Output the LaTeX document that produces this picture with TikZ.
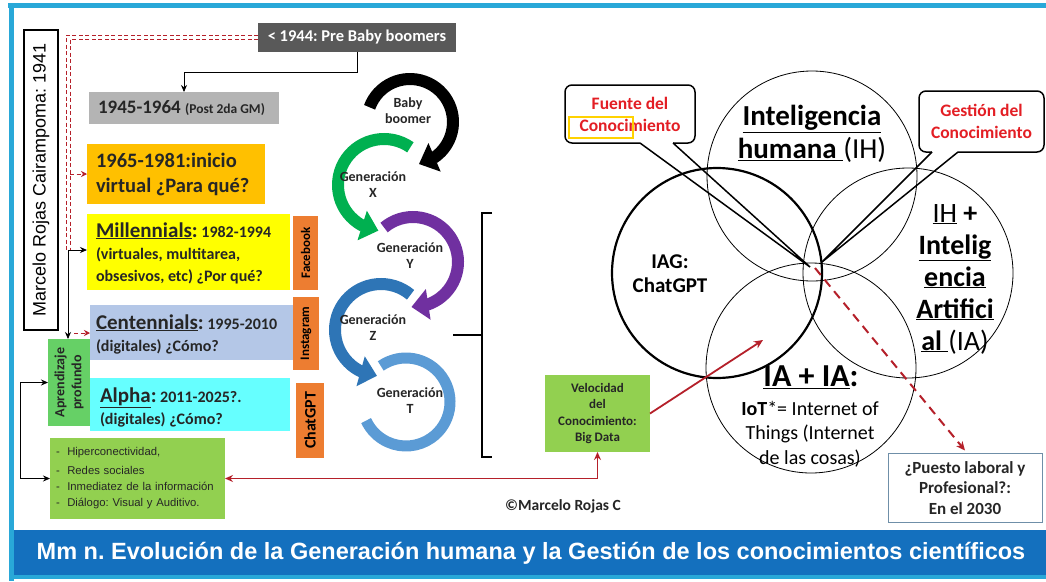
\documentclass[tikz,border=0pt]{standalone}
\usepackage{fontspec}
\setmainfont{Carlito}
\newfontfamily\arialf{Liberation Sans}
\usetikzlibrary{arrows.meta,bending,calc}
\definecolor{cyanb}{HTML}{29A8D8}
\definecolor{titleblue}{HTML}{1470BE}
\definecolor{pregray}{HTML}{595959}
\definecolor{lgray}{HTML}{B4B4B4}
\definecolor{amber}{HTML}{FFC000}
\definecolor{yel}{HTML}{FFFF00}
\definecolor{orng}{HTML}{ED7D31}
\definecolor{lblue}{HTML}{B4C7E7}
\definecolor{cyanbox}{HTML}{66FFFF}
\definecolor{aprgreen}{HTML}{66D066}
\definecolor{listgreen}{HTML}{92D050}
\definecolor{ggreen}{HTML}{00B050}
\definecolor{gpurple}{HTML}{7030A0}
\definecolor{gblue}{HTML}{2E75B6}
\definecolor{glblue}{HTML}{5B9BD5}
\definecolor{callred}{HTML}{E31E24}
\definecolor{dred}{HTML}{B5202A}
\definecolor{puestob}{HTML}{6F8FA8}
\definecolor{txtdark}{HTML}{262626}
\definecolor{hlyellow}{HTML}{FFD200}
\newcommand\fz[2]{\fontsize{#1}{#2}\selectfont}
\frenchspacing
\begin{document}
\begin{tikzpicture}[x=1pt,y=-1pt,
  every node/.style={inner sep=0pt, outer sep=0pt},
  boxtext/.style={anchor=west, align=left, text=txtdark},
  tagbox/.style={fill=orng, rotate=90, text=black},
  genarc/.style={line width=12pt, -{Triangle[width=30pt,length=17pt,flex]}},
  gentext/.style={font=\bfseries\fz{14}{16}, align=center, text=txtdark},
  venn/.style={circle, draw, minimum size=210pt},
  callout/.style={draw, line width=1.5pt, rounded corners=7pt, fill=white, align=center, text=callred, font=\bfseries\fz{17.5}{22}},
  thinarrow/.style={line width=0.8pt, -{Stealth[length=7pt,width=6pt]}},
  reddash/.style={dred, line width=0.8pt, dash pattern=on 4pt off 2.5pt},
  redarrow/.style={reddash, -{Stealth[length=6pt,width=6pt]}}
]
\useasboundingbox (0,0) rectangle (1046,581);
\fill[white] (0,0) rectangle (1046,581);
% frame and title bar
\fill[cyanb] (8,3) rectangle (1046,8);
\fill[cyanb] (9,3) rectangle (14,581);
\fill[titleblue] (14,530) rectangle (1046,575);
\fill[cyanb] (14,575) rectangle (1046,579);
\node[text=white, font=\arialf\bfseries\fz{23.5}{27}] (title) at (531,553) {Mm n. Evolución de la Generación humana y la Gestión de los conocimientos científicos};

% author box
\node[draw, line width=1.2pt, rotate=90, minimum width=300pt, minimum height=34pt, font=\arialf\fz{18}{21}] (marcelo) at (41,180) {Marcelo Rojas Cairampoma: 1941};

% generation boxes
\node[fill=pregray, text=white, font=\bfseries\fz{16.5}{19}, minimum width=198pt, minimum height=29pt] (pre) at (357,37) {< 1944: Pre Baby boomers};
\node[fill=lgray, minimum width=190pt, minimum height=32pt] (g45) at (184,108) {};
\node[boxtext, font=\bfseries\fz{19}{22}] (g45t) at (98,108) {1945-1964 {\fz{13.5}{15}(Post 2da GM)}};
\node[fill=amber, minimum width=178pt, minimum height=60pt] (g65) at (176,174) {};
\node[boxtext, font=\bfseries\fz{20.5}{25}] (g65t) at (96,174) {1965-1981:inicio\\virtual ¿Para qué?};
\node[fill=yel, minimum width=203pt, minimum height=76pt] (mil) at (188.5,252) {};
\node[boxtext, font=\bfseries\fz{16}{22}] (milt) at (96,253) {{\fz{21}{22}\underline{Millennials}:} 1982-1994\\(virtuales, multitarea,\\obsesivos, etc) ¿Por qué?};
\node[fill=lblue, minimum width=203pt, minimum height=55pt] (cen) at (191.5,332.5) {};
\node[boxtext, font=\bfseries\fz{16}{22}] (cent) at (96,334) {{\fz{21}{22}\underline{Centennials}:} 1995-2010\\(digitales) ¿Cómo?};
\node[fill=cyanbox, minimum width=200pt, minimum height=53pt] (alp) at (190,404.5) {};
\node[boxtext, font=\bfseries\fz{16}{22}] (alpt) at (100,407) {{\fz{21}{22}\underline{Alpha}:} 2011-2025?.\\(digitales) ¿Cómo?};

% social network tags
\node[tagbox, minimum width=74pt, minimum height=25pt, font=\bfseries\fz{13}{15}] (fb) at (305.5,253) {Facebook};
\node[tagbox, minimum width=73pt, minimum height=26pt, font=\bfseries\fz{13}{15}] (ig) at (306,333.5) {Instagram};
\node[tagbox, minimum width=75pt, minimum height=28pt, font=\bfseries\fz{16}{18}] (cg) at (310,420.5) {ChatGPT};

% deep learning + list
\node[fill=aprgreen, rotate=90, minimum width=87pt, minimum height=42pt, align=center, text=txtdark, font=\bfseries\fz{14}{17}] (apr) at (69,382.5) {Aprendizaje\\profundo};
\node[fill=listgreen, minimum height=81pt, text width=163pt, inner xsep=6pt, align=left, text=txtdark, font=\arialf\fz{11.3}{16}] (list) at (137.5,478.5) {-\ \ Hiperconectividad,\\[3pt]-\ \ Redes sociales\\-\ \ Inmediatez de la información\\-\ \ Diálogo: Visual y Auditivo.};

% connectors left
\coordinate (rv) at (68,250);
\coordinate (rz) at (70,174);
\coordinate (rc) at (74,333);
\draw[thinarrow] (pre.south) -- ++(0,21) -| (g45.north);
\draw[reddash] ($(pre.west)+(0,-2)$) -| ($(rv)+(-2,0)$);
\draw[reddash] ($(pre.west)+(0,2)$) -| ($(rv)+(2,0)$);
\draw[redarrow] (rz) -- (rz -| g65.west);
\draw[thinarrow] (rv) -- (rv -| mil.west);
\draw[thinarrow] (rv) -- (rv |- apr.east);
\draw[redarrow] (rc) -- (rc -| cen.west);
\draw[line width=0.8pt, {Stealth[length=7pt,width=6pt]}-{Stealth[length=7pt,width=6pt]}] (apr.north) -- ++(-28,0) |- (list.west);

% generation arcs
\coordinate (cbb) at (410,122);
\coordinate (cx) at (384,185);
\coordinate (cy) at (413,262);
\coordinate (cz) at (381,330);
\coordinate (ct) at (406,402);
\draw[glblue, line width=11pt] (ct) ++(125:44pt) arc[start angle=125, end angle=-155, radius=44pt];
\draw[genarc, gblue] (cz) ++(50:46pt) arc[start angle=50, end angle=265, radius=46pt];
\draw[genarc, gpurple] (cy) ++(130:45pt) arc[start angle=130, end angle=-92, radius=45pt];
\draw[genarc, ggreen] (cx) ++(55:46pt) arc[start angle=55, end angle=263, radius=46pt];
\draw[genarc, black] (cbb) ++(160:43pt) arc[start angle=160, end angle=-78, radius=43pt];
\node[gentext] (tbb) at (408,111) {Baby\\boomer};
\node[gentext] (tx) at (373,185) {Generación\\X};
\node[gentext] (ty) at (410,256) {Generación\\Y};
\node[gentext] (tz) at (373,328) {Generación\\Z};
\node[gentext] (tt) at (410,401) {Generación\\T};

% bracket
\draw[line width=2.5pt] (492,213) -- (482,213) -- (482,457) -- (492,457);
\draw[line width=2.5pt] (482,335) -- (453,335);

% velocity box
\node[fill=listgreen, minimum width=105pt, minimum height=77pt, align=center, text=txtdark, font=\bfseries\fz{13}{16.5}] (vel) at (597.5,413.5) {Velocidad\\del\\Conocimiento:\\Big Data};
\draw[dred, line width=1.5pt, {Stealth[length=8pt,width=7pt]}-{Stealth[length=8pt,width=7pt]}] (list.east) -| (vel.south);
\node[text=txtdark, font=\bfseries\fz{15.5}{17}] (copy) at (563,506) {©Marcelo Rojas C};

% Venn diagram
\node[venn, line width=0.8pt] (ih) at (812,176) {};
\node[venn, line width=2.2pt] (iag) at (717,273) {};
\node[venn, line width=0.8pt] (ihia) at (908,273) {};
\node[venn, line width=0.8pt] (iaia) at (811,368) {};
\node[font=\bfseries\fz{29}{33}, align=center] (ihtext) at (812,134) {\underline{Inteligencia}\\\underline{humana\ }{\mdseries(IH)}};
\node[font=\bfseries\fz{21}{24}, align=center] (iagtext) at (670,274) {IAG:\\ChatGPT};
\node[font=\bfseries\fz{28}{32}, align=center] (ihiatext) at (955,279) {\underline{\mdseries IH} +\\\underline{Intelig}\\\underline{encia}\\\underline{Artifici}\\\underline{al\ }{\mdseries(IA)}};
\node[font=\bfseries\fz{32}{34}] (iaiatext) at (811,377) {\underline{IA + IA}:};
\node[font=\fz{20}{24.5}, align=center] (iot) at (810,434) {\textbf{IoT}*= Internet of\\Things (Internet\\de las cosas)};

% arrow from velocity box into the Venn diagram
\coordinate (iatip) at (763,340);
\draw[dred, line width=1.8pt, -{Stealth[length=9pt,width=8pt]}] (vel.east) -- (iatip);

% callouts
\node[callout, minimum width=130pt, minimum height=58pt] (fuente) at (630,114) {Fuente del\\Conocimiento};
\node[draw=hlyellow, line width=1.8pt, minimum width=64pt, minimum height=21pt] (hl) at (601,127.5) {};
\coordinate (fa) at (640,143);
\coordinate (fb2) at (673,143);
\coordinate (ftip) at (810,267);
\draw[white, line width=2.6pt] (fa) -- (fb2);
\draw[line width=1.5pt] (fa) -- (ftip) -- (fb2);

\node[callout, minimum width=125pt, minimum height=61pt] (gestion) at (981.5,121.5) {Gestión del\\Conocimiento};
\coordinate (ga) at (932,152);
\coordinate (gb) at (958,152);
\coordinate (gtip) at (822,262);
\draw[white, line width=2.6pt] (ga) -- (gb);
\draw[line width=1.5pt] (ga) -- (gtip) -- (gb);

% future job box
\node[draw=puestob, line width=0.8pt, minimum width=154pt, minimum height=69pt, align=center, text=txtdark, font=\bfseries\fz{17}{20.5}] (puesto) at (965,488) {¿Puesto laboral y\\Profesional?:\\En el 2030};
\coordinate (dstart) at (815,268);
\draw[dred, line width=2pt, dash pattern=on 9pt off 6pt, -{Stealth[length=9pt,width=8pt]}] (dstart) -- ($(puesto.north)+(0,-3)$);
\end{tikzpicture}
\end{document}
